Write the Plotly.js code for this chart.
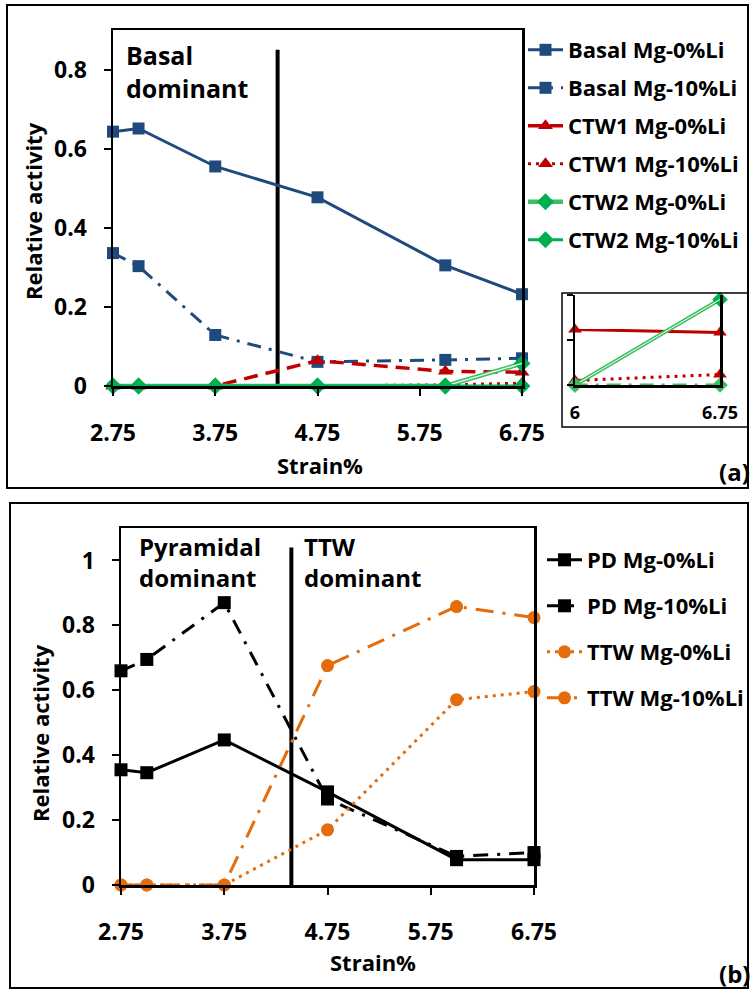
<!DOCTYPE html>
<html>
<head>
<meta charset="utf-8">
<script src="https://cdn.plot.ly/plotly-3.0.1.min.js"></script>
<style>html,body{margin:0;padding:0;background:#fff;}#chart{width:750px;height:990px;}</style>
</head>
<body>
<div id="chart"></div>
<script>
// ---------- data ----------
const strain = [2.75, 3, 3.75, 4.75, 6, 6.75];
const xTicks = [2.75, 3.75, 4.75, 5.75, 6.75];
const xTickText = ['2.75', '3.75', '4.75', '5.75', '6.75'];

// panel (a)
const basal0 = [0.643, 0.651, 0.555, 0.477, 0.305, 0.232];
const basal10 = [0.336, 0.303, 0.129, 0.061, 0.066, 0.070];
const ctw1_0 = [0, 0, 0, 0.064, 0.037, 0.035];
const ctw1_10 = [0, 0, 0, 0, 0.003, 0.007];
const ctw2_0 = [0, 0, 0, 0, 0, 0.057];
const ctw2_10 = [0, 0, 0, 0, 0, 0];
const dividerA_x = [4.36, 4.36];
const dividerA_y = [0, 0.85];

// panel (b)
const pd0 = [0.355, 0.346, 0.447, 0.287, 0.078, 0.078];
const pd10 = [0.660, 0.695, 0.870, 0.265, 0.088, 0.100];
const ttw0 = [0, 0, 0, 0.170, 0.571, 0.596];
const ttw10 = [0, 0, 0, 0.676, 0.858, 0.824];
const dividerB_x = [4.40, 4.40];
const dividerB_y = [0, 1.04];

// inset
const insetTicks = [6, 6.75];
const insetTickText = ['6', '6.75'];

// ---------- helpers ----------
const W = 750, H = 990;
const px = v => v / W;
const py = v => 1 - v / H;
const FONT = 'Open Sans';
const BLUE = '#1F4A7E', RED = '#C00000', GREEN = '#00B050', LGREEN = '#3CBF62', ORANGE = '#E46C0A';

const traces = [];
// dividers
traces.push({x: dividerA_x, y: dividerA_y, xaxis: 'x', yaxis: 'y', mode: 'lines',
  line: {color: '#000', width: 4}, showlegend: false, hoverinfo: 'skip'});
traces.push({x: dividerB_x, y: dividerB_y, xaxis: 'x2', yaxis: 'y2', mode: 'lines',
  line: {color: '#000', width: 4}, showlegend: false, hoverinfo: 'skip'});

function addA(name, y, color, dash, symbol, size, width, group) {
  traces.push({x: strain, y: y, name: name, xaxis: 'x', yaxis: 'y', mode: 'lines+markers',
    legend: 'legend', legendgroup: group, cliponaxis: false,
    line: {color: color, width: width, dash: dash},
    marker: {symbol: symbol, size: size, color: color}});
}
addA('Basal Mg-0%Li', basal0, BLUE, 'solid', 'square', 12, 3, 'a1');
addA('Basal Mg-10%Li', basal10, BLUE, '14px,8px,3px,8px', 'square', 12, 3, 'a2');
addA('CTW1 Mg-0%Li', ctw1_0, RED, '14px,8px', 'triangle-up', 13, 3.5, 'a3');
addA('CTW1 Mg-10%Li', ctw1_10, RED, '3px,5px', 'triangle-up', 13, 3, 'a4');
traces.push({x: strain, y: ctw2_0, name: 'CTW2 Mg-0%Li', xaxis: 'x', yaxis: 'y', mode: 'lines+markers',
  legend: 'legend', legendgroup: 'a5', cliponaxis: false,
  line: {color: LGREEN, width: 4.5}, marker: {symbol: 'diamond', size: 13, color: GREEN}});
traces.push({x: strain, y: ctw2_0, xaxis: 'x', yaxis: 'y', mode: 'lines', showlegend: false,
  hoverinfo: 'skip', line: {color: '#fff', width: 1.2}});
addA('CTW2 Mg-10%Li', ctw2_10, GREEN, 'solid', 'diamond', 13, 3, 'a6');

function addB(name, y, color, dash, symbol, width, group) {
  traces.push({x: strain, y: y, name: name, xaxis: 'x2', yaxis: 'y2', mode: 'lines+markers',
    legend: 'legend2', legendgroup: group, cliponaxis: false,
    line: {color: color, width: width, dash: dash},
    marker: {symbol: symbol, size: 13, color: color}});
}
addB('PD Mg-0%Li', pd0, '#000', 'solid', 'square', 3, 'b1');
addB('PD Mg-10%Li', pd10, '#000', '15px,9px,3px,9px', 'square', 3, 'b2');
addB('TTW Mg-0%Li', ttw0, ORANGE, '3px,5px', 'circle', 3, 'b3');
addB('TTW Mg-10%Li', ttw10, ORANGE, '18px,9px,3px,9px', 'circle', 3, 'b4');

// inset traces (same data, zoomed axes)
function addI(y, color, dash, symbol, width) {
  traces.push({x: strain, y: y, xaxis: 'x3', yaxis: 'y3', mode: 'lines+markers', showlegend: false,
    cliponaxis: false, hoverinfo: 'skip',
    line: {color: color, width: width, dash: dash},
    marker: {symbol: symbol, size: 12, color: color}});
}
addI(ctw1_0, RED, 'solid', 'triangle-up', 3);
addI(ctw1_10, RED, '3px,5px', 'triangle-up', 3);
traces.push({x: strain, y: ctw2_0, xaxis: 'x3', yaxis: 'y3', mode: 'lines+markers', showlegend: false,
  cliponaxis: false, hoverinfo: 'skip', line: {color: LGREEN, width: 4}, marker: {symbol: 'diamond', size: 12, color: GREEN}});
traces.push({x: strain, y: ctw2_0, xaxis: 'x3', yaxis: 'y3', mode: 'lines', showlegend: false,
  hoverinfo: 'skip', line: {color: '#fff', width: 1}});
addI(ctw2_10, LGREEN, '14px,8px,3px,8px', 'diamond', 3);

const tickFont = {family: FONT, size: 23, color: '#000', weight: 'bold'};
function mainX(domain) {
  return {domain: domain, range: [2.75, 6.75], tickvals: xTicks, ticktext: xTickText,
    showline: true, linecolor: '#000', linewidth: 2.5, mirror: true, ticks: 'outside', ticklen: 7,
    tickwidth: 2, tickcolor: '#000', showgrid: false, zeroline: false, tickfont: tickFont,
    ticklabelstandoff: 18, fixedrange: true};
}
function mainY(domain, range, tickvals) {
  return {domain: domain, range: range, tickvals: tickvals,
    showline: true, linecolor: '#000', linewidth: 2.5, mirror: true, ticks: 'outside', ticklen: 7,
    tickwidth: 2, tickcolor: '#000', showgrid: false, zeroline: false, tickfont: tickFont,
    ticklabelstandoff: 12, fixedrange: true};
}

const ann = (text, x, y, opts) => Object.assign({text: text, xref: 'paper', yref: 'paper', x: px(x), y: py(y),
  xanchor: 'center', yanchor: 'middle',
  showarrow: false, font: {family: FONT, size: 22, color: '#000', weight: 'bold'}}, opts || {});

const layout = {
  width: W, height: H, margin: {l: 0, r: 0, t: 0, b: 0},
  paper_bgcolor: '#fff', plot_bgcolor: 'rgba(0,0,0,0)', showlegend: true,
  xaxis: Object.assign(mainX([px(113), px(522)]), {anchor: 'y'}),
  yaxis: Object.assign(mainY([py(386), py(30)], [0, 0.9], [0, 0.2, 0.4, 0.6, 0.8]), {anchor: 'x'}),
  xaxis2: Object.assign(mainX([px(121), px(534)]), {anchor: 'y2'}),
  yaxis2: Object.assign(mainY([py(885), py(528)], [0, 1.1], [0, 0.2, 0.4, 0.6, 0.8, 1]), {anchor: 'x2'}),
  xaxis3: {domain: [px(575), px(720)], range: [6, 6.75], anchor: 'y3', tickvals: insetTicks, ticktext: insetTickText,
    showline: true, linecolor: '#000', linewidth: 2.5, ticks: '', showgrid: false, zeroline: false,
    tickfont: {family: FONT, size: 18, color: '#000', weight: 'bold'}, ticklabelstandoff: 10, fixedrange: true},
  yaxis3: {domain: [py(385), py(295)], range: [0, 0.06], anchor: 'x3', dtick: 0.03, showticklabels: false,
    showline: true, linecolor: '#000', linewidth: 2.5, mirror: true, ticks: 'outside', ticklen: 6, tickwidth: 2,
    tickcolor: '#000', showgrid: false, zeroline: false, fixedrange: true},
  legend: {x: px(523), y: py(29), xanchor: 'left', yanchor: 'top', bgcolor: 'rgba(0,0,0,0)',
    font: {family: FONT, size: 22, color: '#000', weight: 'bold'}, itemwidth: 35, traceorder: 'grouped',
    tracegroupgap: 6.4},
  legend2: {x: px(542), y: py(539), xanchor: 'left', yanchor: 'top', bgcolor: 'rgba(0,0,0,0)',
    font: {family: FONT, size: 22, color: '#000', weight: 'bold'}, itemwidth: 35, traceorder: 'grouped',
    tracegroupgap: 14.4},
  shapes: [
    {type: 'rect', xref: 'paper', yref: 'paper', x0: px(7), x1: px(748), y0: py(488), y1: py(5), line: {color: '#000', width: 2}},
    {type: 'rect', xref: 'paper', yref: 'paper', x0: px(10), x1: px(748), y0: py(988), y1: py(503), line: {color: '#000', width: 2}},
    {type: 'rect', xref: 'paper', yref: 'paper', x0: px(562), x1: px(748), y0: py(427), y1: py(293), line: {color: '#000', width: 1.5}}
  ],
  annotations: [
    ann('Basal<br>dominant', 124, 36, {xanchor: 'left', yanchor: 'top', align: 'left', font: {family: FONT, size: 25, color: '#000', weight: 'bold'}}),
    ann('Pyramidal<br>dominant', 137, 528, {xanchor: 'left', yanchor: 'top', align: 'left', font: {family: FONT, size: 24, color: '#000', weight: 'bold'}}),
    ann('TTW<br>dominant', 302, 528, {xanchor: 'left', yanchor: 'top', align: 'left', font: {family: FONT, size: 24, color: '#000', weight: 'bold'}}),
    ann('Relative activity', 33, 211, {textangle: -90}),
    ann('Relative activity', 40, 733, {textangle: -90}),
    ann('Strain%', 320, 465),
    ann('Strain%', 373, 962),
    ann('(a)', 734, 471, {font: {family: FONT, size: 24, color: '#000', weight: 'bold'}}),
    ann('(b)', 734, 973, {font: {family: FONT, size: 24, color: '#000', weight: 'bold'}})
  ]
};

Plotly.newPlot('chart', traces, layout, {staticPlot: true, displayModeBar: false});
</script>
</body>
</html>
